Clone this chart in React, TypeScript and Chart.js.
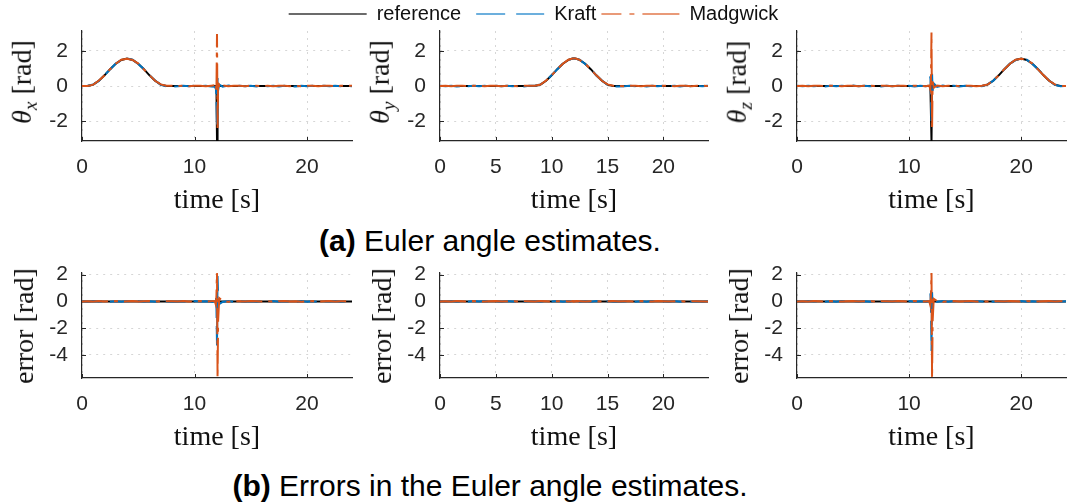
import React, { useEffect, useRef } from 'react';
import { Chart, registerables } from 'chart.js';

Chart.register(...registerables);

// ---------------- data ----------------
const T = [
  0, 0.5, 1, 1.5, 2, 2.5, 3, 3.5, 4, 4.5, 5, 5.5, 6, 6.5, 7, 7.5,
  8, 8.5, 9, 9.5, 10, 10.5, 11, 11.5,
  11.8, 11.9, 11.95, 12, 12.05, 12.1, 12.2,
  12.5, 13, 13.5, 14, 14.5, 15, 15.5, 16,
  16.5, 17, 17.5, 18, 18.5, 19, 19.5, 20, 20.5, 21, 21.5, 22, 22.5, 23, 23.5, 24,
];

const REF_X = [
  0, 0, 0.08, 0.3, 0.61, 0.96, 1.27, 1.49, 1.57, 1.49, 1.27, 0.96, 0.61, 0.3, 0.08, 0,
  0, 0, 0, 0, 0, 0, 0, 0,
  0, 0, 0, -3.14, 0, 0, 0,
  0, 0, 0, 0, 0, 0, 0, 0,
  0, 0, 0, 0, 0, 0, 0, 0, 0, 0, 0, 0, 0, 0, 0, 0,
];
const KRAFT_X = [
  0, 0.01, 0.09, 0.29, 0.62, 0.95, 1.28, 1.48, 1.57, 1.5, 1.26, 0.97, 0.6, 0.31, 0.07, -0.02,
  -0.03, -0.02, 0.01, -0.02, 0.02, -0.01, 0.01, -0.03,
  -0.05, -0.15, -0.6, -2.35, 0.45, -0.25, 0.08,
  -0.04, 0.03, -0.03, 0.02, -0.02, 0.01, -0.03, 0.02,
  -0.01, 0.02, -0.03, 0.01, -0.02, -0.03, 0.02, -0.02, 0.01, -0.03, 0.02, -0.01, 0.02, -0.02, 0.01, -0.01,
];
const MADG_X = [
  0, 0, 0.08, 0.31, 0.6, 0.96, 1.27, 1.5, 1.56, 1.49, 1.28, 0.95, 0.61, 0.3, 0.09, 0.01,
  0.01, -0.01, 0.02, -0.01, 0.01, 0.02, -0.01, 0.02,
  0.04, 0.18, -0.35, 2.97, -2.4, 0.35, -0.12,
  0.03, -0.02, 0.02, 0.01, -0.01, 0.02, 0.01, -0.01,
  0.02, -0.01, 0.01, 0.02, -0.01, 0.01, -0.02, 0.01, 0.02, -0.01, 0.01, 0.02, -0.01, 0.01, 0.02, 0.01,
];

const REF_Y = [
  0, 0, 0, 0, 0, 0, 0, 0, 0, 0, 0, 0, 0, 0, 0, 0,
  0, 0, 0.08, 0.3, 0.61, 0.96, 1.27, 1.49,
  1.56, 1.57, 1.57, 1.57, 1.57, 1.57, 1.56,
  1.49, 1.27, 0.96, 0.61, 0.3, 0.08, 0, 0,
  0, 0, 0, 0, 0, 0, 0, 0, 0, 0, 0, 0, 0, 0, 0, 0,
];
const KRAFT_Y = [
  0.01, -0.02, 0.02, -0.03, 0.01, -0.02, 0.02, -0.01, 0.02, -0.03, 0.01, -0.02, 0.02, -0.01, 0.01, -0.03,
  0.01, 0.01, 0.09, 0.29, 0.62, 0.95, 1.28, 1.48,
  1.55, 1.57, 1.57, 1.57, 1.57, 1.56, 1.55,
  1.5, 1.26, 0.97, 0.6, 0.31, 0.07, -0.02, -0.03,
  -0.01, 0.02, -0.02, 0.01, -0.03, 0.02, -0.01, 0.01, -0.02, 0.02, -0.03, 0.01, -0.02, 0.01, -0.02, 0.01,
];
const MADG_Y = [
  0, 0.01, -0.01, 0.01, 0.02, -0.01, 0.01, 0.02, -0.01, 0.01, 0.02, -0.01, 0.01, 0.01, -0.01, 0.02,
  0.01, 0.01, 0.08, 0.31, 0.6, 0.96, 1.27, 1.5,
  1.56, 1.57, 1.57, 1.57, 1.57, 1.57, 1.56,
  1.49, 1.28, 0.95, 0.61, 0.3, 0.09, 0.01, 0.01,
  -0.01, 0.02, 0.01, -0.01, 0.02, 0.01, -0.01, 0.01, 0.02, -0.01, 0.01, 0.02, -0.01, 0.01, 0.01, 0,
];

const REF_Z = [
  0, 0, 0, 0, 0, 0, 0, 0, 0, 0, 0, 0, 0, 0, 0, 0,
  0, 0, 0, 0, 0, 0, 0, 0,
  0, 0, 0, -3.14, 0, 0, 0,
  0, 0, 0, 0, 0, 0, 0, 0,
  0, 0.08, 0.3, 0.61, 0.96, 1.27, 1.49, 1.57, 1.49, 1.27, 0.96, 0.61, 0.3, 0.08, 0, 0,
];
const KRAFT_Z = [
  0.01, -0.02, 0.02, -0.01, 0.02, -0.03, 0.01, -0.02, 0.02, -0.01, 0.03, -0.02, 0.01, -0.02, 0.02, -0.03,
  0.01, -0.02, 0.02, -0.01, 0.02, -0.03, 0.01, -0.02,
  0.05, 0.55, -0.5, -2.0, 0.7, -0.3, 0.15,
  -0.05, 0.03, -0.02, 0.02, -0.03, 0.01, -0.02, 0.02,
  -0.01, 0.09, 0.29, 0.62, 0.95, 1.28, 1.48, 1.57, 1.5, 1.26, 0.97, 0.6, 0.31, 0.07, -0.02, 0.01,
];
const MADG_Z = [
  0, 0.01, -0.01, 0.02, 0.01, -0.01, 0.02, 0.01, -0.01, 0.01, 0.02, -0.01, 0.01, 0.02, -0.01, 0.01,
  0.01, -0.01, 0.02, 0.01, -0.01, 0.02, 0.01, -0.01,
  0.03, -0.2, 0.3, 3.05, -2.5, 0.25, -0.1,
  0.03, -0.02, 0.01, 0.02, -0.01, 0.01, 0.02, -0.01,
  0.01, 0.08, 0.31, 0.6, 0.96, 1.27, 1.5, 1.56, 1.49, 1.28, 0.95, 0.61, 0.3, 0.09, 0.01, 0,
];

const ERR_REF = [
  0, 0, 0, 0, 0, 0, 0, 0, 0, 0, 0, 0, 0, 0, 0, 0,
  0, 0, 0, 0, 0, 0, 0, 0,
  0, 0, 0, 0, 0, 0, 0,
  0, 0, 0, 0, 0, 0, 0, 0,
  0, 0, 0, 0, 0, 0, 0, 0, 0, 0, 0, 0, 0, 0, 0, 0,
];
const ERR_KRAFT_X = [
  0.01, -0.02, 0.02, -0.01, 0.03, -0.02, 0.01, -0.02, 0.02, -0.01, 0.02, -0.03, 0.01, -0.02, 0.02, -0.01,
  -0.03, -0.02, 0.01, -0.02, 0.02, -0.01, 0.01, -0.03,
  -0.05, 0.35, -0.45, -3.3, 1.9, 0.5, -0.2,
  -0.04, 0.03, -0.03, 0.02, -0.02, 0.01, -0.03, 0.02,
  -0.01, 0.02, -0.03, 0.01, -0.02, -0.03, 0.02, -0.02, 0.01, -0.03, 0.02, -0.01, 0.02, -0.02, 0.01, -0.01,
];
const ERR_MADG_X = [
  0, 0.01, -0.01, 0.02, -0.01, 0.01, 0.02, -0.01, 0.01, 0.02, -0.01, 0.01, 0.02, -0.01, 0.01, 0.01,
  0.01, -0.01, 0.02, -0.01, 0.01, 0.02, -0.01, 0.02,
  0.03, -0.25, 0.45, 2.35, -5.72, -1.4, 0.25,
  0.03, -0.02, 0.02, 0.01, -0.01, 0.02, 0.01, -0.01,
  0.02, -0.01, 0.01, 0.02, -0.01, 0.01, -0.02, 0.01, 0.02, -0.01, 0.01, 0.02, -0.01, 0.01, 0.02, 0.01,
];
const ERR_KRAFT_Y = [
  0.01, -0.02, 0.02, -0.03, 0.01, -0.02, 0.02, -0.01, 0.02, -0.03, 0.01, -0.02, 0.02, -0.01, 0.01, -0.03,
  0.01, 0.01, -0.02, 0.02, -0.01, 0.02, -0.03, 0.01,
  -0.02, 0.02, -0.01, 0.01, -0.02, 0.02, -0.01,
  -0.02, 0.01, -0.03, 0.02, -0.01, 0.02, -0.02, -0.03,
  -0.01, 0.02, -0.02, 0.01, -0.03, 0.02, -0.01, 0.01, -0.02, 0.02, -0.03, 0.01, -0.02, 0.01, -0.02, 0.01,
];
const ERR_MADG_Y = [
  0, 0.01, -0.01, 0.02, 0.01, -0.01, 0.02, 0.01, -0.01, 0.01, 0.02, -0.01, 0.01, 0.01, -0.01, 0.02,
  0.01, -0.01, 0.02, 0.01, -0.01, 0.01, 0.02, -0.01,
  0.01, 0.02, -0.01, 0.01, 0.01, -0.01, 0.02,
  0.01, -0.01, 0.01, 0.02, -0.01, 0.01, 0.02, -0.01,
  0.01, 0.01, -0.01, 0.02, 0.01, -0.01, 0.02, 0.01, -0.01, 0.01, 0.02, -0.01, 0.01, 0.01, -0.01, 0,
];
const ERR_KRAFT_Z = [
  0.01, -0.02, 0.02, -0.01, 0.02, -0.03, 0.01, -0.02, 0.02, -0.01, 0.03, -0.02, 0.01, -0.02, 0.02, -0.03,
  0.01, -0.02, 0.02, -0.01, 0.02, -0.03, 0.01, -0.02,
  0.03, 0.6, -0.3, -3.7, 0.7, -0.35, 0.1,
  -0.05, 0.03, -0.02, 0.02, -0.03, 0.01, -0.02, 0.02,
  -0.01, 0.02, -0.03, 0.01, -0.02, 0.02, -0.01, 0.02, -0.03, 0.01, -0.02, 0.02, -0.01, 0.01, -0.02, 0.01,
];
const ERR_MADG_Z = [
  0, 0.01, -0.01, 0.02, 0.01, -0.01, 0.02, 0.01, -0.01, 0.01, 0.02, -0.01, 0.01, 0.02, -0.01, 0.01,
  0.01, -0.01, 0.02, 0.01, -0.01, 0.02, 0.01, -0.01,
  0.02, -0.3, 0.5, 2.3, -5.72, -1.5, 0.2,
  0.03, -0.02, 0.01, 0.02, -0.01, 0.01, 0.02, -0.01,
  0.01, -0.01, 0.02, 0.01, -0.01, 0.02, 0.01, -0.01, 0.01, 0.02, -0.01, 0.01, 0.02, -0.01, 0.01, 0,
];

const SERIES_NAMES = ['reference', 'Kraft', 'Madgwick'];
const X_TICKS_WIDE = [0, 10, 20];
const X_TICKS_FINE = [0, 5, 10, 15, 20];
const Y_TICKS_ANGLE = [-2, 0, 2];
const Y_TICKS_ERR = [-4, -2, 0, 2];
const TIME_RANGE = [0, 24];
const ANGLE_RANGE = [-3.1416, 3.1416];
const ERR_RANGE = [-5.72, 2.12];

// ---------------- styles ----------------
const COLORS = ['#000000', '#0072BD', '#D95319'];
const LEGEND_COLORS = ['#3a3a3a', '#3d95d2', '#e27a4c'];
const PLOT_DASH = [[], [20, 8], [26, 6, 4, 6]];
const LEGEND_DASH = [[], [29, 11], [38, 8, 5, 8]];
const LEGEND_DASH_OFFSET = [0, 30, 18];
const AXIS_COLOR = '#262626';
const GRID_COLOR = '#d6d6d6';
const TICK_FONT = { family: 'Liberation Sans, Arial, sans-serif', size: 21 };
const SERIF = '"Liberation Serif", "Times New Roman", serif';
const SANS = '"Liberation Sans", Arial, sans-serif';

const COLS = [
  { left: 82, right: 352 },
  { left: 440, right: 708 },
  { left: 797, right: 1066 },
];
const ROWS = [
  { top: 31, bottom: 141 },
  { top: 273, bottom: 378 },
];
const PAD_L = 70;
const PAD_T = 14;
const PAD_R = 1;
const PAD_B = 45;
const TICK_LEN = 4;

type PanelDef = {
  series: number[][];
  xticks: number[];
  yticks: number[];
  yrange: number[];
  col: number;
  row: number;
  sub: string;
};

const PANELS: PanelDef[] = [
  { series: [REF_X, KRAFT_X, MADG_X], xticks: X_TICKS_WIDE, yticks: Y_TICKS_ANGLE, yrange: ANGLE_RANGE, col: 0, row: 0, sub: 'x' },
  { series: [REF_Y, KRAFT_Y, MADG_Y], xticks: X_TICKS_FINE, yticks: Y_TICKS_ANGLE, yrange: ANGLE_RANGE, col: 1, row: 0, sub: 'y' },
  { series: [REF_Z, KRAFT_Z, MADG_Z], xticks: X_TICKS_WIDE, yticks: Y_TICKS_ANGLE, yrange: ANGLE_RANGE, col: 2, row: 0, sub: 'z' },
  { series: [ERR_REF, ERR_KRAFT_X, ERR_MADG_X], xticks: X_TICKS_WIDE, yticks: Y_TICKS_ERR, yrange: ERR_RANGE, col: 0, row: 1, sub: '' },
  { series: [ERR_REF, ERR_KRAFT_Y, ERR_MADG_Y], xticks: X_TICKS_FINE, yticks: Y_TICKS_ERR, yrange: ERR_RANGE, col: 1, row: 1, sub: '' },
  { series: [ERR_REF, ERR_KRAFT_Z, ERR_MADG_Z], xticks: X_TICKS_WIDE, yticks: Y_TICKS_ERR, yrange: ERR_RANGE, col: 2, row: 1, sub: '' },
];

const innerTicks = {
  id: 'innerTicks',
  beforeDatasetsDraw(chart: any) {
    const { ctx, chartArea, scales } = chart;
    ctx.save();
    ctx.strokeStyle = AXIS_COLOR;
    ctx.lineWidth = 1;
    scales.x.ticks.forEach((tk: any) => {
      const px = Math.round(scales.x.getPixelForValue(tk.value)) + 0.5;
      ctx.beginPath();
      ctx.moveTo(px, chartArea.bottom);
      ctx.lineTo(px, chartArea.bottom - TICK_LEN);
      ctx.stroke();
    });
    scales.y.ticks.forEach((tk: any) => {
      const py = Math.round(scales.y.getPixelForValue(tk.value)) + 0.5;
      ctx.beginPath();
      ctx.moveTo(chartArea.left, py);
      ctx.lineTo(chartArea.left + TICK_LEN, py);
      ctx.stroke();
    });
    ctx.restore();
  },
};

function points(values: number[]) {
  return T.map((t, i) => ({ x: t, y: values[i] }));
}

function Panel({ def }: { def: PanelDef }) {
  const ref = useRef<HTMLCanvasElement | null>(null);
  const col = COLS[def.col];
  const row = ROWS[def.row];
  const w = col.right - col.left;
  const h = row.bottom - row.top;

  useEffect(() => {
    if (!ref.current) return;
    const datasets = def.series.map((vals, i) => ({
      label: SERIES_NAMES[i],
      data: points(vals),
      borderColor: COLORS[i],
      backgroundColor: COLORS[i],
      borderWidth: 2,
      borderDash: PLOT_DASH[i],
      pointRadius: 0,
      tension: 0,
      fill: false,
      order: 3 - i,
    }));
    const chart = new Chart(ref.current, {
      type: 'line',
      data: { datasets },
      plugins: [innerTicks],
      options: {
        animation: false,
        responsive: false,
        events: [],
        layout: { padding: { left: 0, top: PAD_T, right: PAD_R, bottom: 0 } },
        plugins: { legend: { display: false }, tooltip: { enabled: false } },
        scales: {
          x: {
            type: 'linear',
            min: TIME_RANGE[0],
            max: TIME_RANGE[1],
            afterBuildTicks: (ax: any) => {
              ax.ticks = def.xticks.map((v) => ({ value: v }));
            },
            afterFit: (ax: any) => {
              ax.height = PAD_B;
              ax.paddingLeft = 0;
              ax.paddingRight = 0;
            },
            grid: { color: GRID_COLOR, lineWidth: 1, drawTicks: false },
            border: { display: true, color: AXIS_COLOR, width: 1.2, dash: [2, 5] },
            ticks: {
              autoSkip: false,
              maxRotation: 0,
              padding: 14,
              color: AXIS_COLOR,
              font: TICK_FONT,
              callback: (v: any) => String(v),
            },
          },
          y: {
            type: 'linear',
            position: 'left',
            min: def.yrange[0],
            max: def.yrange[1],
            afterBuildTicks: (ax: any) => {
              ax.ticks = def.yticks.map((v) => ({ value: v }));
            },
            afterFit: (ax: any) => {
              ax.width = PAD_L;
              ax.paddingTop = 0;
              ax.paddingBottom = 0;
            },
            grid: { color: GRID_COLOR, lineWidth: 1, drawTicks: false },
            border: { display: true, color: AXIS_COLOR, width: 1.2, dash: [2, 5] },
            ticks: {
              autoSkip: false,
              padding: 14,
              color: AXIS_COLOR,
              font: TICK_FONT,
              callback: (v: any) => String(v),
            },
          },
        },
      } as any,
    });
    return () => chart.destroy();
  }, [def]);

  const cx = (col.left + col.right) / 2;
  const cy = (row.top + row.bottom) / 2;

  return (
    <>
      <canvas
        ref={ref}
        width={w + PAD_L + PAD_R}
        height={h + PAD_T + PAD_B}
        style={{ position: 'absolute', left: col.left - PAD_L, top: row.top - PAD_T }}
      />
      <div
        style={{
          position: 'absolute',
          left: col.left - 58,
          top: def.row === 0 ? cy - 4 : cy,
          transform: 'translate(-50%, -50%) rotate(-90deg)',
          fontFamily: SERIF,
          fontSize: 28,
          lineHeight: 1,
          whiteSpace: 'nowrap',
          color: '#111',
        }}
      >
        {def.row === 0 ? (
          <>
            <i>θ</i>
            <sub style={{ fontSize: '0.7em', verticalAlign: '-0.3em' }}>
              <i>{def.sub}</i>
            </sub>
            {' [rad]'}
          </>
        ) : (
          'error [rad]'
        )}
      </div>
      <div
        style={{
          position: 'absolute',
          left: cx,
          top: row.bottom + 58,
          transform: 'translate(-50%, -50%)',
          fontFamily: SERIF,
          fontSize: 28,
          lineHeight: 1,
          whiteSpace: 'nowrap',
          color: '#111',
        }}
      >
        time [s]
      </div>
    </>
  );
}

function Legend() {
  const ref = useRef<HTMLCanvasElement | null>(null);
  useEffect(() => {
    if (!ref.current) return;
    const chart = new Chart(ref.current, {
      type: 'line',
      data: {
        datasets: SERIES_NAMES.map((name, i) => ({
          label: name,
          data: [],
          borderColor: LEGEND_COLORS[i],
          backgroundColor: LEGEND_COLORS[i],
          borderWidth: 1.5,
          borderDash: LEGEND_DASH[i],
        })),
      },
      options: {
        animation: false,
        responsive: false,
        events: [],
        layout: { padding: 0 },
        scales: { x: { display: false }, y: { display: false } },
        plugins: {
          tooltip: { enabled: false },
          legend: {
            display: true,
            position: 'top',
            labels: {
              usePointStyle: true,
              pointStyleWidth: 78,
              padding: 5,
              color: '#111',
              font: { family: 'Liberation Sans, Arial, sans-serif', size: 20 },
              generateLabels: () =>
                SERIES_NAMES.map((name, i) => ({
                  text: name,
                  fillStyle: LEGEND_COLORS[i],
                  strokeStyle: LEGEND_COLORS[i],
                  fontColor: '#111',
                  lineWidth: 1.5,
                  lineDash: LEGEND_DASH[i],
                  lineDashOffset: LEGEND_DASH_OFFSET[i],
                  lineCap: 'butt',
                  pointStyle: 'line',
                  hidden: false,
                  datasetIndex: i,
                })),
            },
          },
        },
      } as any,
    });
    return () => chart.destroy();
  }, []);
  return <canvas ref={ref} width={1067} height={90} style={{ position: 'absolute', left: 0, top: -1 }} />;
}

function Caption({ y, tag, text }: { y: number; tag: string; text: string }) {
  return (
    <div
      style={{
        position: 'absolute',
        left: 490,
        top: y,
        transform: 'translate(-50%, -50%)',
        fontFamily: SANS,
        fontSize: 30,
        lineHeight: 1,
        whiteSpace: 'nowrap',
        color: '#000',
      }}
    >
      <b>{tag}</b> {text}
    </div>
  );
}

export default function App() {
  return (
    <div
      style={{
        position: 'absolute',
        left: 0,
        top: 0,
        width: 1067,
        height: 503,
        overflow: 'hidden',
        background: '#fff',
      }}
    >
      {PANELS.map((p, i) => (
        <Panel key={i} def={p} />
      ))}
      <Legend />
      <Caption y={241} tag="(a)" text="Euler angle estimates." />
      <Caption y={486} tag="(b)" text="Errors in the Euler angle estimates." />
    </div>
  );
}
